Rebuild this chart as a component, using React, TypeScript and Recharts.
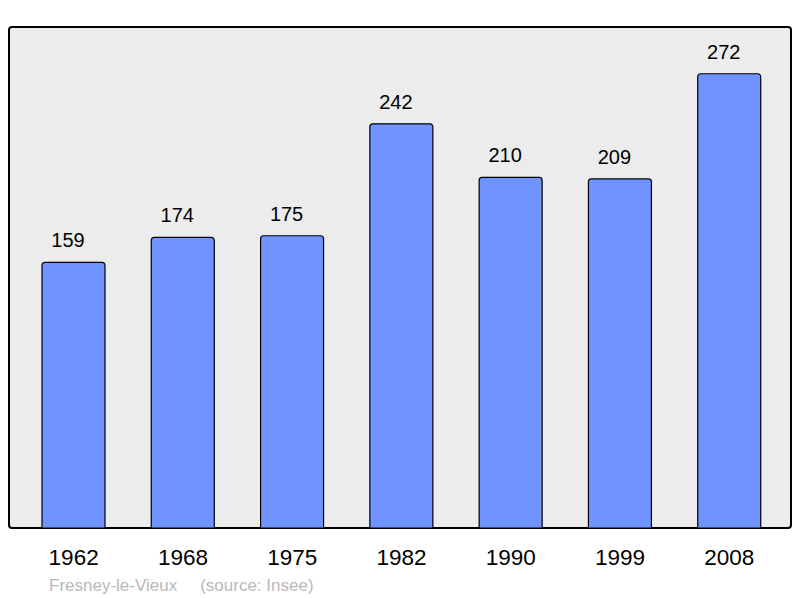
import React from 'react';
import { BarChart, Bar, XAxis, YAxis, LabelList } from 'recharts';

const years = ['1962', '1968', '1975', '1982', '1990', '1999', '2008'];
const population = [159, 174, 175, 242, 210, 209, 272];

const data = years.map((y, i) => ({ year: y, pop: population[i] }));

const FONT = '"Liberation Sans", Arial, sans-serif';

export default function App() {
  return (
    <div style={{ position: 'absolute', left: 0, top: 0, width: 800, height: 598, background: '#fff', fontFamily: FONT }}>
      <div
        style={{
          position: 'absolute',
          left: 8,
          top: 26,
          width: 784,
          height: 503,
          boxSizing: 'border-box',
          border: '2px solid #000',
          borderRadius: 4,
          background: '#ececec',
        }}
      />
      <BarChart
        width={800}
        height={598}
        data={data}
        margin={{ top: 27, right: 9, bottom: 40, left: 9 }}
      >
        <XAxis
          dataKey="year"
          axisLine={false}
          tickLine={false}
          height={30}
          tickSize={6}
          tickMargin={15}
          interval={0}
          padding={{ left: 10, right: 7 }}
          tick={{ fontSize: 22.5, fill: '#000', fontFamily: FONT }}
        />
        <YAxis hide domain={[0, 300]} />
        <Bar
          dataKey="pop"
          barSize={63}
          fill="#7094ff"
          stroke="#000"
          strokeWidth={1.2}
          radius={[3, 3, 0, 0]}
          isAnimationActive={false}
        >
          <LabelList
            dataKey="pop"
            position="top"
            offset={15}
            dx={-5.5}
            style={{ fontSize: 20, fill: '#000', fontFamily: FONT }}
          />
        </Bar>
      </BarChart>
      <div
        style={{
          position: 'absolute',
          left: 49,
          top: 576,
          fontSize: 17,
          lineHeight: '20px',
          color: '#b8b8b8',
          fontFamily: FONT,
          whiteSpace: 'pre',
        }}
      >
        <span>Fresney-le-Vieux</span>
        <span style={{ marginLeft: 23 }}>(source: Insee)</span>
      </div>
    </div>
  );
}
